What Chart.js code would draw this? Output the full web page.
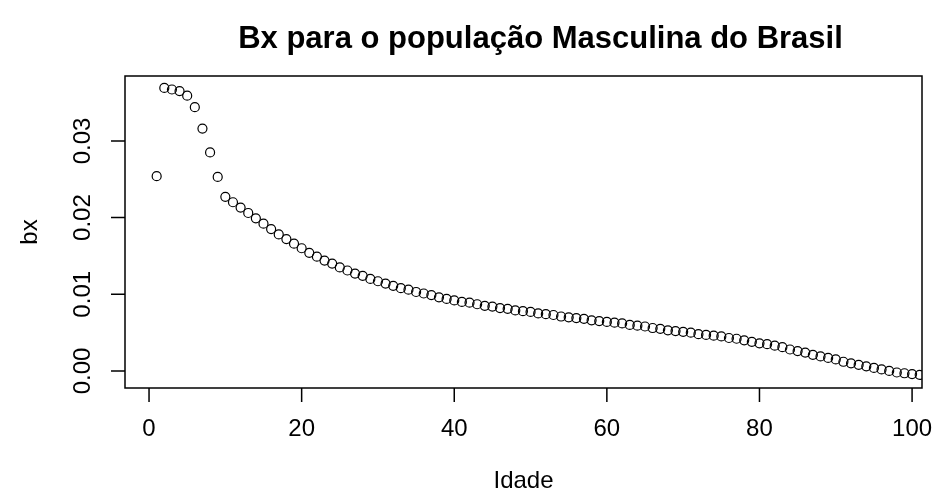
<!DOCTYPE html>
<html>
<head>
<meta charset="utf-8">
<script src="https://cdn.jsdelivr.net/npm/chart.js@4"></script>
<style>
  html, body { margin: 0; padding: 0; background: #fff; }
  #wrap { width: 937px; height: 491px; }
</style>
</head>
<body>
<div id="wrap"><canvas id="bxChart"></canvas></div>
<script>
// idades (1..101) e valores de bx
const idades = [];
for (let i = 1; i <= 101; i++) idades.push(i);

const bx = [
    0.0254, 0.0369, 0.0367, 0.0365, 0.0359, 0.0344, 0.0316, 0.0285, 0.0253, 0.0227,
    0.0220, 0.0213, 0.0206, 0.0199, 0.0192, 0.0185, 0.0178, 0.0172, 0.0166, 0.0160,
    0.0154, 0.0149, 0.0144, 0.0140, 0.0135, 0.0131, 0.0127, 0.0124, 0.0120, 0.0117,
    0.0114, 0.0111, 0.0108, 0.0106, 0.0103, 0.0101, 0.0099, 0.0096, 0.0094, 0.0092,
    0.0090, 0.0089, 0.0087, 0.0085, 0.0084, 0.0082, 0.0081, 0.0079, 0.0078, 0.0077,
    0.0075, 0.0074, 0.0073, 0.0071, 0.0070, 0.0069, 0.0068, 0.0066, 0.0065, 0.0064,
    0.0063, 0.0062, 0.0060, 0.0059, 0.0058, 0.0056, 0.0055, 0.0053, 0.0052, 0.0051,
    0.0050, 0.0048, 0.0047, 0.0046, 0.0045, 0.0043, 0.0042, 0.0040, 0.0038, 0.0036,
    0.0035, 0.0033, 0.0031, 0.0028, 0.0026, 0.0024, 0.0021, 0.0019, 0.0017, 0.0015,
    0.0012, 0.0010, 0.0008, 0.0006, 0.0004, 0.0002, 0.0000, -0.0002, -0.0003, -0.0004,
    -0.0005
];

const xTicks = [0, 20, 40, 60, 80, 100];
const yTicks = [0.00, 0.01, 0.02, 0.03];
const yTickLabels = ['0.00', '0.01', '0.02', '0.03'];

const titulo = 'Bx para o população Masculina do Brasil';
const xTitulo = 'Idade';
const yTitulo = 'bx';

const FONT = '"Liberation Sans", Arial, sans-serif';

// desenha caixa, eixos e textos no estilo do R base
const rAxes = {
    id: 'rAxes',
    afterDraw(chart) {
        const c = chart.ctx;
        const a = chart.chartArea;
        const xs = chart.scales.x;
        const ys = chart.scales.y;
        c.save();
        c.strokeStyle = '#000';
        c.fillStyle = '#000';
        c.lineWidth = 1.5;
        c.strokeRect(a.left, a.top, a.right - a.left, a.bottom - a.top);

        // eixo x
        c.beginPath();
        xTicks.forEach(t => {
            const px = xs.getPixelForValue(t);
            c.moveTo(px, a.bottom);
            c.lineTo(px, a.bottom + 14);
        });
        c.stroke();
        c.font = '24px ' + FONT;
        c.textAlign = 'center';
        c.textBaseline = 'middle';
        xTicks.forEach(t => c.fillText(String(t), xs.getPixelForValue(t), a.bottom + 41));
        c.fillText(xTitulo, (a.left + a.right) / 2, a.bottom + 93);

        // eixo y
        c.beginPath();
        yTicks.forEach(t => {
            const py = ys.getPixelForValue(t);
            c.moveTo(a.left, py);
            c.lineTo(a.left - 14, py);
        });
        c.stroke();
        yTicks.forEach((t, i) => {
            c.save();
            c.translate(a.left - 42, ys.getPixelForValue(t));
            c.rotate(-Math.PI / 2);
            c.fillText(yTickLabels[i], 0, 0);
            c.restore();
        });
        c.save();
        c.translate(30, (a.top + a.bottom) / 2);
        c.rotate(-Math.PI / 2);
        c.fillText(yTitulo, 0, 0);
        c.restore();

        // título (um pouco à direita, como na figura original)
        c.font = 'bold 31px ' + FONT;
        c.fillText(titulo, (a.left + a.right) / 2 + 17, 39);
        c.restore();
    }
};

const ctx = document.getElementById('bxChart').getContext('2d');
const bxChart = new Chart(ctx, {
    type: 'scatter',
    data: {
        datasets: [{
            data: idades.map((x, i) => ({ x: x, y: bx[i] })),
            showLine: false,
            pointStyle: 'circle',
            pointRadius: 4.5,
            pointBorderWidth: 1.2,
            pointBorderColor: '#000',
            pointBackgroundColor: 'rgba(0,0,0,0)'
        }]
    },
    options: {
        responsive: true,
        maintainAspectRatio: false,
        animation: false,
        layout: { padding: { left: 125, right: 15, top: 76, bottom: 103 } },
        plugins: {
            legend: { display: false },
            tooltip: { enabled: false }
        },
        scales: {
            x: { type: 'linear', display: false, min: -3.15, max: 101.3 },
            y: { type: 'linear', display: false, min: -0.00222, max: 0.03846 }
        }
    },
    plugins: [rAxes]
});
</script>
</body>
</html>
